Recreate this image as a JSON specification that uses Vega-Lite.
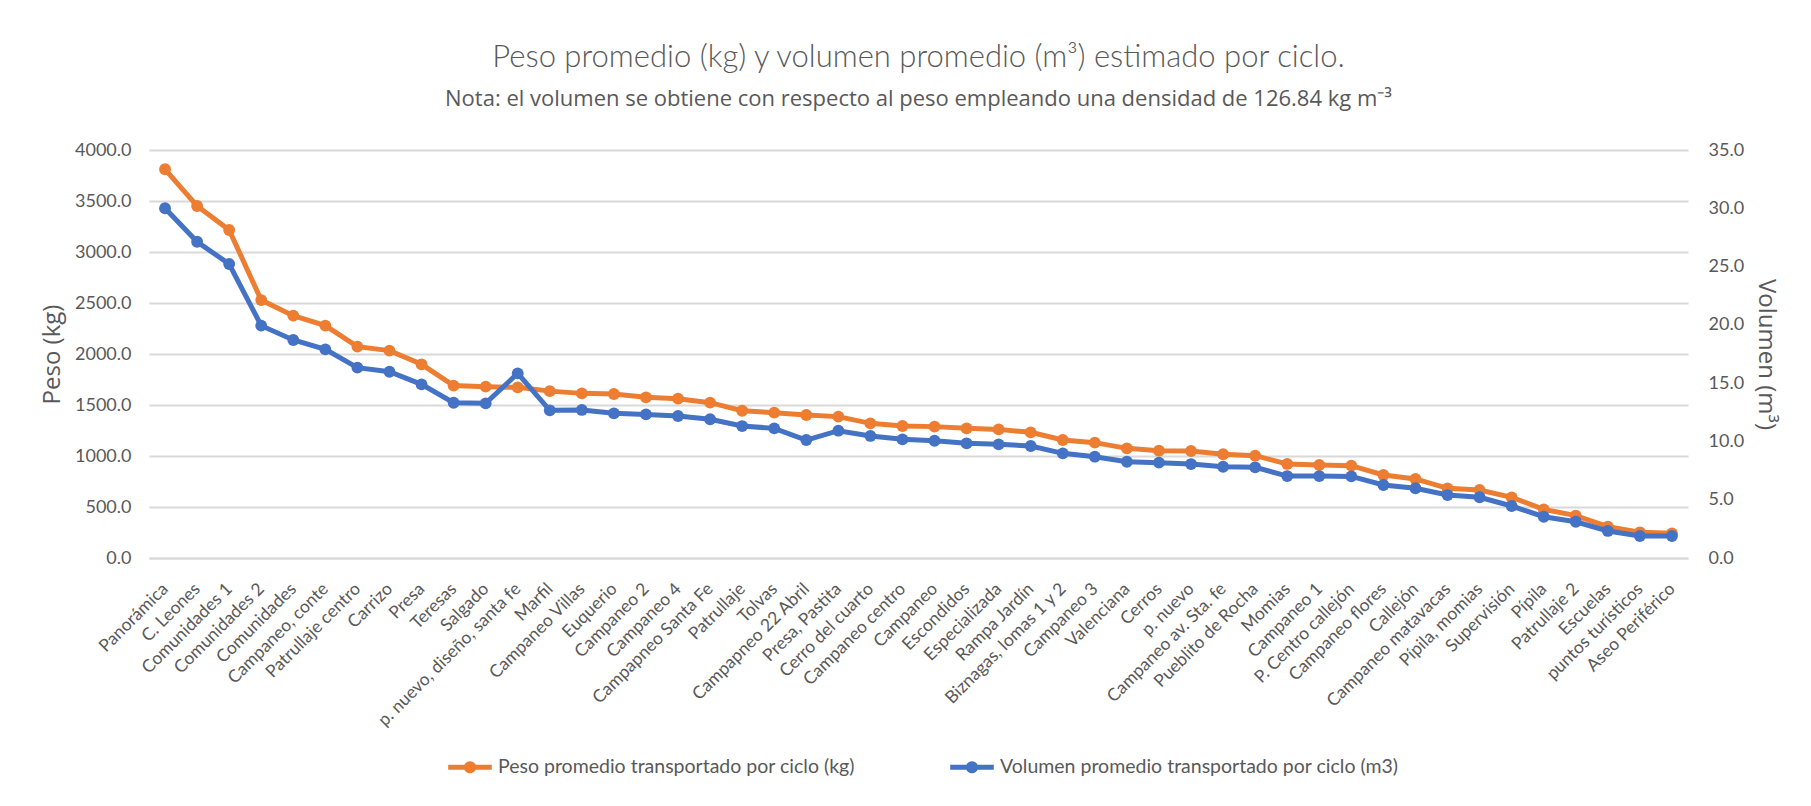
{
  "$schema": "https://vega.github.io/schema/vega-lite/v6.json",
  "width": 1539,
  "height": 408,
  "autosize": {"type": "none"},
  "padding": {"left": 149, "top": 150, "right": 123, "bottom": 248},
  "background": "white",
  "title": {
    "text": "Peso promedio (kg) y volumen promedio (m³) estimado por ciclo.",
    "subtitle": "Nota: el volumen se obtiene con respecto al peso empleando una densidad de 126.84 kg m⁻³",
    "anchor": "middle",
    "font": "Lato",
    "fontWeight": 300,
    "fontSize": 31,
    "color": "#595959",
    "subtitleFont": "Open Sans",
    "subtitleFontSize": 22,
    "subtitleColor": "#595959",
    "subtitlePadding": 15,
    "offset": 30
  },
  "data": {
    "values": [
      {"cat": "Panorámica", "peso": 3811, "vol": 30.0},
      {"cat": "C. Leones", "peso": 3451, "vol": 27.13},
      {"cat": "Comunidades 1", "peso": 3216, "vol": 25.22},
      {"cat": "Comunidades 2", "peso": 2529, "vol": 19.93},
      {"cat": "Comunidades", "peso": 2376, "vol": 18.7},
      {"cat": "Campaneo, conte", "peso": 2278, "vol": 17.9},
      {"cat": "Patrullaje centro", "peso": 2072, "vol": 16.33},
      {"cat": "Carrizo", "peso": 2033, "vol": 15.98},
      {"cat": "Presa", "peso": 1899, "vol": 14.9},
      {"cat": "Teresas", "peso": 1690, "vol": 13.32},
      {"cat": "Salgado", "peso": 1680, "vol": 13.27},
      {"cat": "p. nuevo, diseño, santa fe", "peso": 1673, "vol": 15.84},
      {"cat": "Marfil", "peso": 1636, "vol": 12.67},
      {"cat": "Campaneo Villas", "peso": 1614, "vol": 12.7},
      {"cat": "Euquerio", "peso": 1608, "vol": 12.41},
      {"cat": "Campaneo 2", "peso": 1575, "vol": 12.32},
      {"cat": "Campaneo 4", "peso": 1562, "vol": 12.18},
      {"cat": "Campapneo Santa Fe", "peso": 1523, "vol": 11.9},
      {"cat": "Patrullaje", "peso": 1444, "vol": 11.32},
      {"cat": "Tolvas", "peso": 1425, "vol": 11.12},
      {"cat": "Campapneo 22 Abril", "peso": 1402, "vol": 10.12},
      {"cat": "Presa, Pastita", "peso": 1386, "vol": 10.92},
      {"cat": "Cerro del cuarto", "peso": 1320, "vol": 10.47},
      {"cat": "Campaneo centro", "peso": 1294, "vol": 10.18},
      {"cat": "Campaneo", "peso": 1288, "vol": 10.06},
      {"cat": "Escondidos", "peso": 1271, "vol": 9.84},
      {"cat": "Especializada", "peso": 1261, "vol": 9.75},
      {"cat": "Rampa Jardín", "peso": 1232, "vol": 9.61},
      {"cat": "Biznagas, lomas 1 y 2", "peso": 1157, "vol": 8.98},
      {"cat": "Campaneo 3", "peso": 1131, "vol": 8.69},
      {"cat": "Valenciana", "peso": 1075, "vol": 8.26},
      {"cat": "Cerros", "peso": 1052, "vol": 8.18},
      {"cat": "p. nuevo", "peso": 1049, "vol": 8.06},
      {"cat": "Campaneo av. Sta. fe", "peso": 1017, "vol": 7.83},
      {"cat": "Pueblito de Rocha", "peso": 1003, "vol": 7.78},
      {"cat": "Momias", "peso": 922, "vol": 7.03},
      {"cat": "Campaneo 1", "peso": 912, "vol": 7.03},
      {"cat": "P. Centro callejón", "peso": 905, "vol": 7.0},
      {"cat": "Campaneo flores", "peso": 814, "vol": 6.26},
      {"cat": "Callejón", "peso": 775, "vol": 5.98},
      {"cat": "Campaneo matavacas", "peso": 683, "vol": 5.4},
      {"cat": "Pípila, momias", "peso": 667, "vol": 5.21},
      {"cat": "Supervisión", "peso": 595, "vol": 4.46},
      {"cat": "Pípila", "peso": 477, "vol": 3.54},
      {"cat": "Patrullaje 2", "peso": 415, "vol": 3.11},
      {"cat": "Escuelas", "peso": 307, "vol": 2.32},
      {"cat": "puntos turísticos", "peso": 252, "vol": 1.89},
      {"cat": "Aseo Periférico", "peso": 242, "vol": 1.89}
    ]
  },
  "config": {
    "view": {"stroke": null},
    "axis": {
      "labelColor": "#595959",
      "titleColor": "#595959",
      "labelFont": "Lato",
      "titleFont": "Open Sans",
      "titleFontWeight": "normal",
      "ticks": false
    }
  },
  "layer": [
    {
      "mark": {"type": "line", "strokeWidth": 5, "point": {"filled": true, "size": 140, "opacity": 1}},
      "encoding": {
        "x": {
          "field": "cat",
          "type": "nominal",
          "sort": null,
          "scale": {"type": "point", "padding": 0.5},
          "axis": {
            "title": null,
            "labelAngle": -45,
            "labelAlign": "right",
            "labelBaseline": "middle",
            "labelFontSize": 17.5,
            "labelPadding": 28,
            "labelLimit": 400,
            "labelOverlap": false,
            "domain": true,
            "domainColor": "#D9D9D9",
            "domainWidth": 2,
            "grid": false
          }
        },
        "y": {
          "field": "peso",
          "type": "quantitative",
          "scale": {"domain": [0, 4000]},
          "axis": {
            "title": "Peso (kg)",
            "titleFontSize": 24,
            "titlePadding": 10,
            "values": [0, 500, 1000, 1500, 2000, 2500, 3000, 3500, 4000],
            "format": ".1f",
            "labelFontSize": 18,
            "labelPadding": 18,
            "domain": false,
            "grid": true,
            "gridColor": "#D9D9D9",
            "gridWidth": 2
          }
        },
        "color": {
          "datum": "Peso promedio transportado por ciclo (kg)",
          "type": "nominal",
          "scale": {
            "domain": ["Peso promedio transportado por ciclo (kg)", "Volumen promedio transportado por ciclo (m3)"],
            "range": ["#ED7D31", "#4472C4"]
          },
          "legend": {
            "title": null,
            "orient": "none",
            "direction": "horizontal",
            "legendX": 299,
            "legendY": 595,
            "symbolType": "M-1,-0.11L1,-0.11L1,0.11L-1,0.11Z M0.28,0A0.28,0.28 0 1 1 -0.28,0A0.28,0.28 0 1 1 0.28,0Z",
            "symbolSize": 1900,
            "symbolStrokeWidth": 0,
            "labelFont": "Lato",
            "labelFontSize": 19.5,
            "labelColor": "#595959",
            "labelOffset": 6,
            "columnPadding": 95,
            "labelLimit": 600,
            "encode": {
              "symbols": {
                "update": {
                  "fill": {"scale": "color", "field": "value"},
                  "stroke": {"value": "transparent"},
                  "opacity": {"value": 1}
                }
              }
            }
          }
        }
      }
    },
    {
      "mark": {"type": "line", "strokeWidth": 5, "point": {"filled": true, "size": 140, "opacity": 1}},
      "encoding": {
        "x": {"field": "cat", "type": "nominal", "sort": null, "scale": {"type": "point", "padding": 0.5}},
        "y": {
          "field": "vol",
          "type": "quantitative",
          "scale": {"domain": [0, 35]},
          "axis": {
            "orient": "right",
            "title": "Volumen (m³)",
            "titleFontSize": 24,
            "titlePadding": 10,
            "values": [0, 5, 10, 15, 20, 25, 30, 35],
            "format": ".1f",
            "labelFontSize": 18,
            "labelPadding": 20,
            "domain": false,
            "grid": false
          }
        },
        "color": {"datum": "Volumen promedio transportado por ciclo (m3)", "type": "nominal"}
      }
    }
  ],
  "resolve": {"scale": {"y": "independent"}}
}
